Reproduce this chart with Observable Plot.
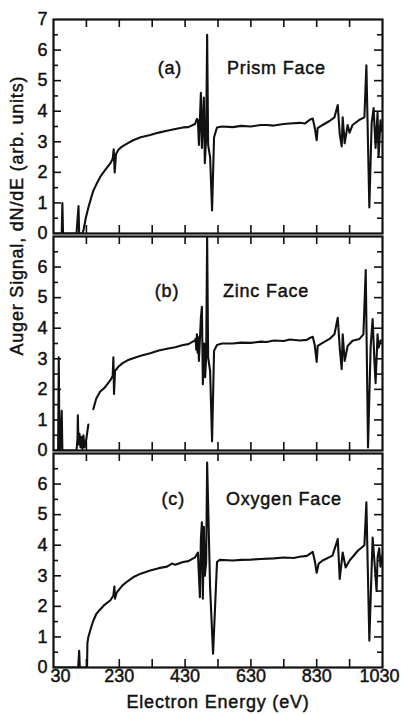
<!DOCTYPE html>
<html>
<head>
<meta charset="utf-8">
<script src="https://cdn.jsdelivr.net/npm/d3@7"></script>
<script src="https://cdn.jsdelivr.net/npm/@observablehq/plot@0.6"></script>
<style>
  body { margin: 0; background: #fff; }
  #chart { position: relative; width: 401px; height: 715px; background: #fff;
           font-family: "Liberation Sans", Arial, Helvetica, sans-serif; }
  #chart svg { position: absolute; left: 0; overflow: visible; background: transparent; }
  #chart svg text { stroke: #111; stroke-width: 0.45px; paint-order: stroke; }
</style>
</head>
<body>
<div id="chart"></div>
<script>
// ---- Data: [electron energy (eV), Auger signal dN/dE (arb. units)] ----
const prismFace = [
  [30,0],[55,0],[57,1.0],[59,0],[100,0],[106,0.9],[108,0],[118,0],[121,0.1],[128,0.5],
  [136,0.85],[144,1.15],[151,1.4],[160,1.6],[172,1.85],[185,2.05],[203,2.3],[210,2.45],
  [213,2.75],[216,2.0],[220,2.6],[228,2.75],[239,2.85],[255,2.95],[272,3.05],[295,3.15],
  [324,3.22],[350,3.3],[375,3.36],[400,3.42],[424,3.47],[440,3.48],[460,3.58],[466,3.75],
  [469,3.7],[472,2.9],[478,4.6],[481,2.8],[487,4.45],[490,2.3],[494,3.15],[497,6.5],
  [500,2.9],[506,2.5],[512,0.75],[518,3.15],[527,3.47],[542,3.5],[575,3.48],[600,3.52],
  [630,3.5],[660,3.55],[678,3.55],[700,3.53],[730,3.58],[748,3.6],[778,3.62],[795,3.6],
  [809,3.72],[818,3.76],[824,3.47],[830,3.05],[833,3.45],[848,3.55],[869,3.68],[884,3.8],
  [894,4.2],[900,3.25],[906,2.85],[909,3.8],[915,2.95],[924,3.55],[930,3.3],[939,3.55],
  [960,3.72],[975,3.8],[981,5.5],[990,0.85],[997,3.6],[1003,4.1],[1009,2.8],[1015,3.95],
  [1018,2.5],[1024,3.7],[1027,3.35],[1030,3.5]
];
const zincFace = [
  [30,0],[44,0],[46,3.05],[48,0.2],[50,0],[55,1.3],[57,0],[100,0],[103,0.4],[104,1.15],
  [106,0.2],[109,0.55],[112,0.1],[115,0.45],[118,0.05],[121,0.5],[124,0.1],[127,0.15],
  [132,0.55],[136,0.85],[140,null],[151,1.35],[160,1.7],[172,1.93],[185,2.05],[203,2.3],
  [210,2.45],[212,3.05],[214,1.85],[217,2.6],[228,2.75],[239,2.85],[255,2.95],[272,3.02],
  [295,3.1],[324,3.18],[350,3.27],[375,3.33],[400,3.38],[424,3.45],[440,3.48],[460,3.6],
  [462,3.65],[464,3.3],[466,3.8],[468,3.2],[470,3.7],[472,2.93],[478,4.34],[481,4.7],
  [484,2.17],[488,3.5],[491,2.4],[494,3.05],[497,7.0],[500,3.05],[506,2.6],[512,0.3],
  [518,3.26],[527,3.45],[542,3.5],[575,3.5],[600,3.53],[630,3.52],[660,3.56],[678,3.55],
  [700,3.6],[730,3.58],[748,3.63],[778,3.6],[800,3.62],[809,3.68],[818,3.72],[824,3.45],
  [830,2.9],[833,3.42],[848,3.52],[869,3.65],[884,3.8],[894,4.34],[900,3.36],[906,2.66],
  [909,3.8],[915,2.93],[924,3.42],[939,3.59],[960,3.65],[972,3.8],[979,5.9],[986,0.1],
  [994,3.4],[1000,4.3],[1006,2.8],[1009,2.2],[1015,3.8],[1018,3.36],[1024,3.6],[1030,3.6]
];
const oxygenFace = [
  [30,0],[105,0],[108,0.55],[110,0],[132,0],[133,0.8],[136,1.0],[144,1.3],[151,1.53],
  [160,1.75],[172,1.9],[185,2.05],[203,2.2],[212,2.35],[215,2.65],[217,2.25],[222,2.45],
  [239,2.68],[255,2.82],[272,2.95],[295,3.07],[324,3.17],[350,3.25],[375,3.3],[390,3.4],
  [400,3.36],[424,3.45],[440,3.48],[460,3.6],[469,3.76],[472,3.0],[475,2.3],[478,4.2],
  [481,4.75],[484,2.25],[487,4.6],[490,3.0],[494,3.45],[497,6.7],[506,2.6],[515,0.45],
  [527,3.45],[535,3.52],[575,3.5],[600,3.52],[630,3.53],[660,3.55],[700,3.57],[730,3.6],
  [760,3.58],[778,3.62],[800,3.65],[818,3.78],[824,3.5],[830,3.1],[836,3.4],[848,3.5],
  [878,3.66],[894,4.2],[900,2.9],[909,3.76],[918,3.27],[930,3.5],[955,3.82],[975,4.0],
  [981,5.4],[990,0.88],[1000,4.25],[1006,3.4],[1012,2.5],[1015,3.6],[1020,3.9],
  [1024,3.3],[1030,3.7]
];

// ---- Labels & ticks ----
const panelTags = ["(a)", "(b)", "(c)"];
const faceNames = ["Prism Face", "Zinc Face", "Oxygen Face"];
const tagAt = [[384, 5.4], [375, 5.2], [394, 5.5]];
const nameAt = [[557, 5.4], [545, 5.2], [554, 5.5]];
const xTickLabels = [30, 230, 430, 630, 830, 1030];
const xTicks = [130, 230, 330, 430, 530, 630, 730, 830, 930];
const yLabelsTop = [0, 1, 2, 3, 4, 5, 6, 7];
const yLabelsOther = [0, 1, 2, 3, 4, 5, 6];
const yMajor = [1, 2, 3, 4, 5, 6];
const yMinor = [0.5, 1.5, 2.5, 3.5, 4.5, 5.5, 6.5];
const xTitle = "Electron Energy (eV)";
const yTitle = "Auger Signal, dN/dE (arb. units)";

const W = 401, ML = 53, MR = 19, INNER_H = 214;
const innerW = W - ML - MR;
const font = "'Liberation Sans', Arial, Helvetica, sans-serif";
const chart = document.getElementById("chart");
const fmt = d => String(d);

function panel(i, data, top, mTop, mBottom, yLabels, extra) {
  const marks = [
    Plot.line(data, {x: d => d[0], y: d => d[1], stroke: "#111", strokeWidth: 2.1, clip: true, curve: "linear"}),
    // inward ticks
    Plot.tickY(yMajor, {y: d => d, insetRight: innerW - 8, stroke: "#111", strokeWidth: 1.6}),
    Plot.tickY(yMinor, {y: d => d, insetRight: innerW - 5, stroke: "#111", strokeWidth: 1.6}),
    Plot.tickY(yMajor, {y: d => d, insetLeft: innerW - 8, stroke: "#111", strokeWidth: 1.6}),
    Plot.tickY(yMinor, {y: d => d, insetLeft: innerW - 5, stroke: "#111", strokeWidth: 1.6}),
    Plot.tickX(xTicks, {x: d => d, insetBottom: INNER_H - 8, stroke: "#111", strokeWidth: 1.6}),
    Plot.tickX(xTicks, {x: d => d, insetTop: INNER_H - 8, stroke: "#111", strokeWidth: 1.6}),
    Plot.frame({stroke: "#111", strokeWidth: 2.2}),
    Plot.axisY(yLabels, {tickSize: 0, tickPadding: 6, label: null, fontSize: 18, fill: "#111", tickFormat: fmt}),
    Plot.text([panelTags[i]], {x: () => tagAt[i][0], y: () => tagAt[i][1], textAnchor: "middle", fontSize: 18, fill: "#111"}),
    Plot.text([faceNames[i]], {x: () => nameAt[i][0], y: () => nameAt[i][1], textAnchor: "start", fontSize: 18, fill: "#111"}),
    ...extra
  ];
  const svg = Plot.plot({
    width: W,
    height: mTop + INNER_H + mBottom,
    marginLeft: ML, marginRight: MR, marginTop: mTop, marginBottom: mBottom,
    x: {domain: [30, 1030], axis: null},
    y: {domain: [0, 7], axis: null},
    style: {fontFamily: font, fontSize: "18px", background: "transparent", overflow: "visible"},
    marks
  });
  svg.style.top = top + "px";
  d3.select(svg).selectAll("g[aria-label='text'] text").attr("letter-spacing", "0.8px");
  chart.appendChild(svg);
  return svg;
}

panel(0, prismFace, 0, 19, 3, yLabelsTop, []);
panel(1, zincFace, 233, 3, 3, yLabelsOther, [
  Plot.text([yTitle], {frameAnchor: "left", rotate: -90, dx: -36, dy: 12, fontSize: 18, fill: "#111"})
]);
panel(2, oxygenFace, 450, 3, 48, yLabelsOther, [
  Plot.axisX(xTickLabels.slice(1, 5), {tickSize: 0, tickPadding: 2, label: null, fontSize: 18, fill: "#111", tickFormat: fmt}),
  Plot.axisX(xTickLabels.slice(0, 1), {tickSize: 0, tickPadding: 2, label: null, fontSize: 18, fill: "#111", tickFormat: fmt, dx: 7}),
  Plot.axisX(xTickLabels.slice(5), {tickSize: 0, tickPadding: 2, label: null, fontSize: 18, fill: "#111", tickFormat: fmt, dx: -3}),
  Plot.text([xTitle], {frameAnchor: "bottom", dy: 40, fontSize: 18, fill: "#111"})
]);
</script>
</body>
</html>
